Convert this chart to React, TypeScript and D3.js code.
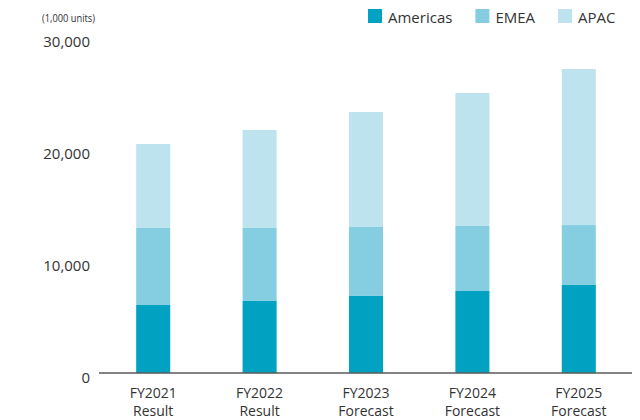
import React, { useEffect, useRef } from 'react';
import * as d3 from 'd3';

// Units shipped (1,000 units)
const categories = ['FY2021', 'FY2022', 'FY2023', 'FY2024', 'FY2025'];
const categorySub = ['Result', 'Result', 'Forecast', 'Forecast', 'Forecast'];
const americas = [6070, 6430, 6880, 7320, 7860];
const emea = [6880, 6520, 6160, 5810, 5350];
const apac = [7500, 8750, 10260, 11870, 13930];
const seriesNames = ['Americas', 'EMEA', 'APAC'];
const seriesColors = ['#00a1c1', '#85cee1', '#bde3ee'];
const yTicks = [0, 10000, 20000, 30000];

const App: React.FC = () => {
  const svgRef = useRef<SVGSVGElement>(null);

  useEffect(() => {
    if (!svgRef.current) return;
    const svg = d3.select(svgRef.current);
    svg.selectAll('*').remove();

    const font = '"Open Sans", "Noto Sans", sans-serif';
    const textColor = '#333333';

    const x = d3.scaleBand<string>()
      .domain(categories)
      .range([100, 632])
      .paddingInner(0.68)
      .paddingOuter(0.34);

    const y = d3.scaleLinear().domain([0, 30000]).range([373, 37]);

    const rows = categories.map((c, i) => ({
      cat: c,
      Americas: americas[i],
      EMEA: emea[i],
      APAC: apac[i],
    }));
    const stacked = d3.stack<any>().keys(seriesNames)(rows);

    // Bars
    stacked.forEach((layer, si) => {
      svg.append('g')
        .selectAll('rect')
        .data(layer)
        .enter().append('rect')
        .attr('x', d => x(d.data.cat)!)
        .attr('width', x.bandwidth())
        .attr('y', d => y(d[1]))
        .attr('height', d => y(d[0]) - y(d[1]))
        .attr('fill', seriesColors[si]);
    });

    // Baseline
    svg.append('line')
      .attr('x1', 99).attr('x2', 632)
      .attr('y1', y(0)).attr('y2', y(0))
      .attr('stroke', '#5a5a5a')
      .attr('stroke-width', 1.5);

    // Y tick labels
    svg.append('g')
      .selectAll('text')
      .data(yTicks)
      .enter().append('text')
      .attr('x', 90)
      .attr('y', d => y(d) + 9.5)
      .attr('text-anchor', 'end')
      .style('font-family', font)
      .style('font-size', '15px')
      .style('fill', textColor)
      .text(d => d3.format(',')(d));

    // Unit label
    svg.append('text')
      .attr('x', 42)
      .attr('y', 22)
      .attr('textLength', 53)
      .attr('lengthAdjust', 'spacingAndGlyphs')
      .style('font-family', font)
      .style('font-size', '11px')
      .style('fill', textColor)
      .text('(1,000 units)');

    // X labels
    const xl = svg.append('g')
      .selectAll('text')
      .data(categories)
      .enter().append('text')
      .attr('text-anchor', 'middle')
      .style('font-family', font)
      .style('font-size', '14px')
      .style('fill', textColor);
    xl.append('tspan')
      .attr('x', d => x(d)! + x.bandwidth() / 2)
      .attr('y', 398)
      .text(d => d);
    xl.append('tspan')
      .attr('x', d => x(d)! + x.bandwidth() / 2)
      .attr('y', 416)
      .text((_, i) => categorySub[i]);

    // Legend
    let lx = 368;
    seriesNames.forEach((name, i) => {
      const g = svg.append('g');
      g.append('rect')
        .attr('x', lx).attr('y', 9)
        .attr('width', 14).attr('height', 14)
        .attr('fill', seriesColors[i]);
      const t = g.append('text')
        .attr('x', lx + 20)
        .attr('y', 23)
        .style('font-family', font)
        .style('font-size', '15px')
        .style('fill', textColor)
        .text(name);
      const w = (t.node() as SVGTextElement).getComputedTextLength();
      lx += 20 + w + 23;
    });
  }, []);

  return (
    <svg
      ref={svgRef}
      width={640}
      height={420}
      viewBox="0 0 640 420"
      style={{ position: 'absolute', left: 0, top: 0, background: '#ffffff' }}
    />
  );
};

export default App;
